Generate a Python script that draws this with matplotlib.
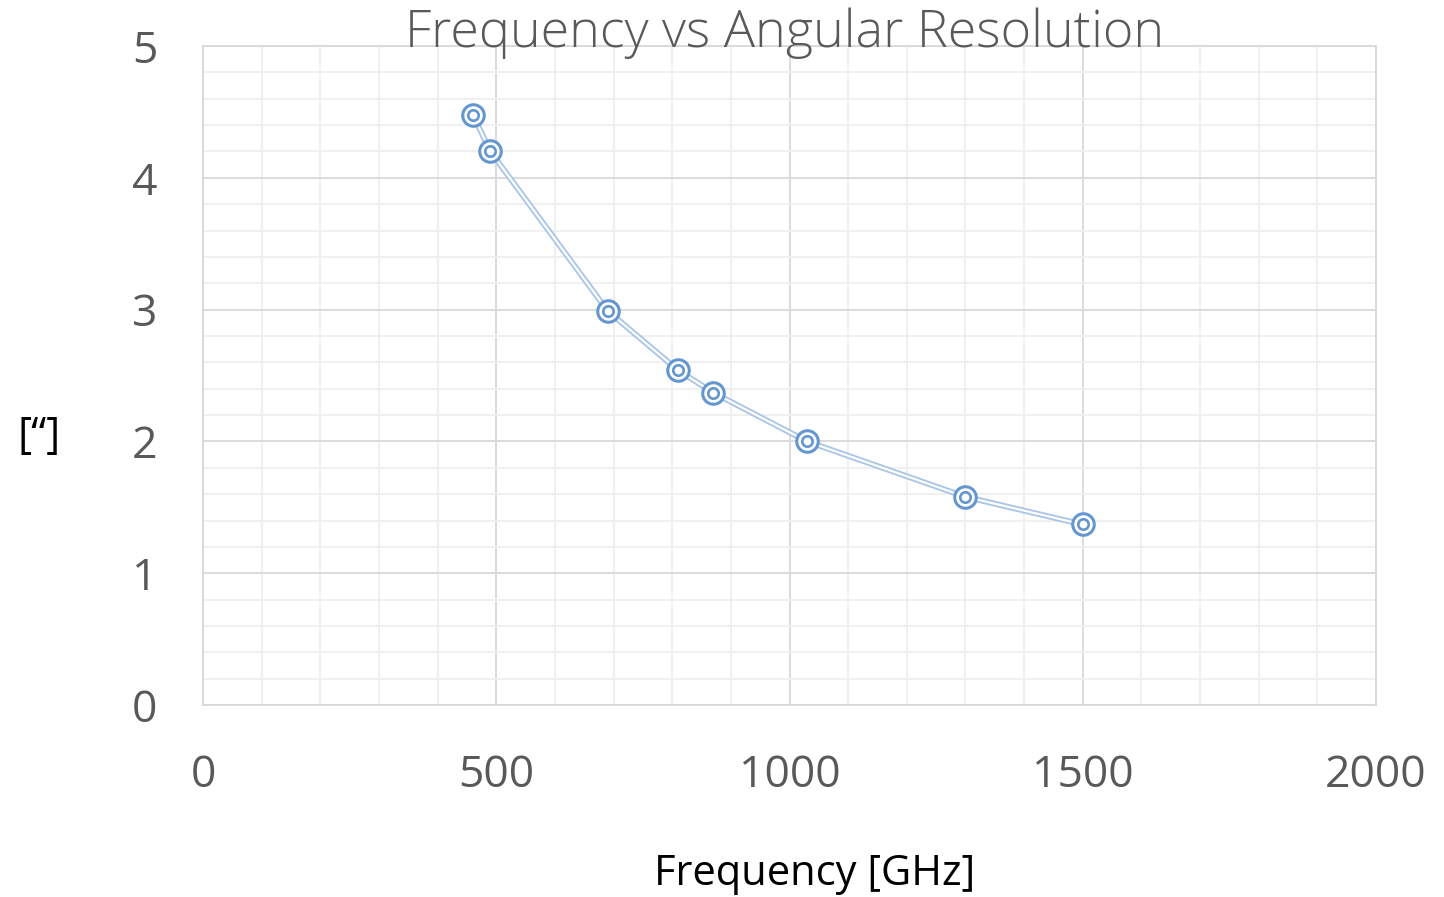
import numpy as np
import matplotlib.pyplot as plt
from matplotlib.ticker import MultipleLocator

# Observing frequency and the matching angular resolution
freq_ghz = [460, 490, 690, 810, 870, 1030, 1300, 1500]
resolution_arcsec = [4.48, 4.20, 2.99, 2.54, 2.37, 2.00, 1.58, 1.37]

x_ticks = [0, 500, 1000, 1500, 2000]
y_ticks = [0, 1, 2, 3, 4, 5]

plt.rcParams['font.family'] = ['Open Sans', 'DejaVu Sans']

fig = plt.figure(figsize=(14.44, 8.97), dpi=100)
ax = fig.add_axes([0.1406, 0.2140, 0.8123, 0.7347])

ax.set_xlim(0, 2000)
ax.set_ylim(0, 5)
ax.set_xticks(x_ticks)
ax.set_yticks(y_ticks)
ax.xaxis.set_minor_locator(MultipleLocator(100))
ax.yaxis.set_minor_locator(MultipleLocator(0.2))

ax.grid(which='major', color='#d9d9d9', lw=1.3)
ax.grid(which='minor', color='#efefef', lw=1.3)
ax.set_axisbelow(True)
for s in ax.spines.values():
    s.set_color('#d9d9d9')
    s.set_linewidth(1.3)

ax.tick_params(which='both', length=0)
ax.tick_params(axis='x', pad=35, labelsize=32, labelcolor='#595959')
ax.tick_params(axis='y', pad=33, labelsize=32, labelcolor='#595959')

# double-stroke connecting line
ax.plot(freq_ghz, resolution_arcsec, color='#a8c5e8', lw=4.2, zorder=3)
ax.plot(freq_ghz, resolution_arcsec, color='white', lw=1.6, zorder=3)

# ring markers with an inner ring
ax.plot(freq_ghz, resolution_arcsec, ls='none', marker='o', ms=15.5,
        mfc='white', mec='#6496cf', mew=2.2, zorder=4)
ax.plot(freq_ghz, resolution_arcsec, ls='none', marker='o', ms=7.5,
        mfc='none', mec='#6496cf', mew=1.9, zorder=5)

fig.text(0.5435, 0.9476, 'Frequency vs Angular Resolution', fontsize=37.5,
         color='#595959', fontweight='light', ha='center', va='baseline')
fig.text(0.5644, 0.0134, 'Frequency [GHz]', fontsize=30, color='black',
         ha='center', va='baseline')
fig.text(0.027, 0.513, '[\u201c]', fontsize=31, color='black',
         ha='center', va='center')

fig.savefig('out.png', dpi=100)
